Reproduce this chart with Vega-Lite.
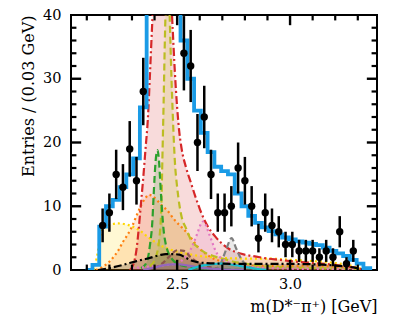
{
  "$schema": "https://vega.github.io/schema/vega-lite/v6.json",
  "width": 306,
  "height": 255,
  "autosize": {"type": "none"},
  "padding": {"left": 71, "top": 15, "right": 22, "bottom": 52},
  "background": "white",
  "config": {
    "view": {"stroke": "black", "strokeWidth": 2},
    "axis": {"domain": false, "grid": false, "ticks": false, "labelFont": "DejaVu Serif", "labelFontSize": 14.5, "labelColor": "black", "titleFont": "DejaVu Serif", "titleFontSize": 16, "titleFontWeight": "normal", "titleColor": "black"}
  },
  "datasets": {
    "xmaj": [{"t": 2.5}, {"t": 3.0}],
    "xmin": [{"t": 2.1}, {"t": 2.2}, {"t": 2.3}, {"t": 2.4}, {"t": 2.6}, {"t": 2.7}, {"t": 2.8}, {"t": 2.9}, {"t": 3.1}, {"t": 3.2}, {"t": 3.3}],
    "ymaj": [{"t": 10}, {"t": 20}, {"t": 30}],
    "ymin": [{"t": 2}, {"t": 4}, {"t": 6}, {"t": 8}, {"t": 12}, {"t": 14}, {"t": 16}, {"t": 18}, {"t": 22}, {"t": 24}, {"t": 26}, {"t": 28}, {"t": 32}, {"t": 34}, {"t": 36}, {"t": 38}],
    "pts": [
      {"m": 2.17, "n": 7, "lo": 4.35, "hi": 9.65},
      {"m": 2.20, "n": 9, "lo": 6, "hi": 12},
      {"m": 2.23, "n": 15, "lo": 11.13, "hi": 18.87},
      {"m": 2.26, "n": 13, "lo": 9.39, "hi": 16.61},
      {"m": 2.29, "n": 19, "lo": 14.64, "hi": 23.36},
      {"m": 2.32, "n": 14, "lo": 10.26, "hi": 17.74},
      {"m": 2.35, "n": 28, "lo": 22.71, "hi": 33.29},
      {"m": 2.53, "n": 34, "lo": 28.17, "hi": 39.83},
      {"m": 2.56, "n": 32, "lo": 26.34, "hi": 37.66},
      {"m": 2.59, "n": 20, "lo": 15.53, "hi": 24.47},
      {"m": 2.62, "n": 24, "lo": 19.1, "hi": 28.9},
      {"m": 2.65, "n": 15, "lo": 11.13, "hi": 18.87},
      {"m": 2.68, "n": 9, "lo": 6, "hi": 12},
      {"m": 2.71, "n": 9, "lo": 6, "hi": 12},
      {"m": 2.74, "n": 10, "lo": 6.84, "hi": 13.16},
      {"m": 2.77, "n": 16, "lo": 12, "hi": 20},
      {"m": 2.80, "n": 14, "lo": 10.26, "hi": 17.74},
      {"m": 2.83, "n": 10, "lo": 6.84, "hi": 13.16},
      {"m": 2.86, "n": 5, "lo": 2.76, "hi": 7.24},
      {"m": 2.89, "n": 9, "lo": 6, "hi": 12},
      {"m": 2.92, "n": 7, "lo": 4.35, "hi": 9.65},
      {"m": 2.95, "n": 6, "lo": 3.55, "hi": 8.45},
      {"m": 2.98, "n": 4, "lo": 2, "hi": 6},
      {"m": 3.01, "n": 4, "lo": 2, "hi": 6},
      {"m": 3.04, "n": 3, "lo": 1.27, "hi": 4.73},
      {"m": 3.07, "n": 3, "lo": 1.27, "hi": 4.73},
      {"m": 3.10, "n": 3, "lo": 1.27, "hi": 4.73},
      {"m": 3.13, "n": 2, "lo": 0.59, "hi": 3.41},
      {"m": 3.16, "n": 3, "lo": 1.27, "hi": 4.73},
      {"m": 3.19, "n": 2, "lo": 0.59, "hi": 3.41},
      {"m": 3.22, "n": 6, "lo": 3.55, "hi": 8.45},
      {"m": 3.25, "n": 1, "lo": 0, "hi": 2},
      {"m": 3.28, "n": 3, "lo": 1.27, "hi": 4.73}
    ],
    "tot": [
      {"m": 2.095, "v": 0}, {"m": 2.125, "v": 0.8}, {"m": 2.155, "v": 6.8}, {"m": 2.185, "v": 10},
      {"m": 2.215, "v": 11}, {"m": 2.245, "v": 13}, {"m": 2.275, "v": 15}, {"m": 2.305, "v": 17.5},
      {"m": 2.335, "v": 25.5}, {"m": 2.365, "v": 45}, {"m": 2.395, "v": 60}, {"m": 2.425, "v": 75},
      {"m": 2.455, "v": 80}, {"m": 2.485, "v": 55}, {"m": 2.515, "v": 36}, {"m": 2.545, "v": 30},
      {"m": 2.575, "v": 25}, {"m": 2.605, "v": 21.5}, {"m": 2.635, "v": 18.5}, {"m": 2.665, "v": 16.2},
      {"m": 2.695, "v": 15.5}, {"m": 2.725, "v": 15}, {"m": 2.755, "v": 12}, {"m": 2.785, "v": 10},
      {"m": 2.815, "v": 8.5}, {"m": 2.845, "v": 7.4}, {"m": 2.875, "v": 6.7}, {"m": 2.905, "v": 6.1},
      {"m": 2.935, "v": 5.6}, {"m": 2.965, "v": 5.1}, {"m": 2.995, "v": 4.8}, {"m": 3.025, "v": 4.5},
      {"m": 3.055, "v": 4.3}, {"m": 3.085, "v": 4.1}, {"m": 3.115, "v": 3.9}, {"m": 3.145, "v": 3.5},
      {"m": 3.175, "v": 3.0}, {"m": 3.205, "v": 2.6}, {"m": 3.235, "v": 2.2}, {"m": 3.265, "v": 1.6},
      {"m": 3.295, "v": 1.0}, {"m": 3.325, "v": 0.3}, {"m": 3.355, "v": 0}
    ],
    "comps": [
      {"c": "yellow", "m": 2.13, "v": 0}, {"c": "yellow", "m": 2.145, "v": 2.1}, {"c": "yellow", "m": 2.16, "v": 5.5}, {"c": "yellow", "m": 2.17, "v": 6.8}, {"c": "yellow", "m": 2.20, "v": 7.1}, {"c": "yellow", "m": 2.24, "v": 7.3}, {"c": "yellow", "m": 2.28, "v": 7.1}, {"c": "yellow", "m": 2.33, "v": 6.3}, {"c": "yellow", "m": 2.37, "v": 5.2}, {"c": "yellow", "m": 2.41, "v": 4.2}, {"c": "yellow", "m": 2.455, "v": 3.4}, {"c": "yellow", "m": 2.50, "v": 2.9}, {"c": "yellow", "m": 2.55, "v": 2.5}, {"c": "yellow", "m": 2.60, "v": 2.2}, {"c": "yellow", "m": 2.70, "v": 1.9}, {"c": "yellow", "m": 2.80, "v": 1.8}, {"c": "yellow", "m": 2.90, "v": 1.8}, {"c": "yellow", "m": 3.00, "v": 1.6}, {"c": "yellow", "m": 3.10, "v": 1.4}, {"c": "yellow", "m": 3.20, "v": 1.1}, {"c": "yellow", "m": 3.28, "v": 0.6}, {"c": "yellow", "m": 3.33, "v": 0},
      {"c": "orange", "m": 2.14, "v": 0}, {"c": "orange", "m": 2.17, "v": 0.5}, {"c": "orange", "m": 2.20, "v": 1.3}, {"c": "orange", "m": 2.22, "v": 2.1}, {"c": "orange", "m": 2.24, "v": 3.1}, {"c": "orange", "m": 2.26, "v": 4.4}, {"c": "orange", "m": 2.28, "v": 5.5}, {"c": "orange", "m": 2.30, "v": 6.8}, {"c": "orange", "m": 2.32, "v": 8.5}, {"c": "orange", "m": 2.34, "v": 10.1}, {"c": "orange", "m": 2.36, "v": 11.3}, {"c": "orange", "m": 2.375, "v": 11.8}, {"c": "orange", "m": 2.39, "v": 11.6}, {"c": "orange", "m": 2.41, "v": 11}, {"c": "orange", "m": 2.43, "v": 10.2}, {"c": "orange", "m": 2.455, "v": 9.4}, {"c": "orange", "m": 2.49, "v": 7.8}, {"c": "orange", "m": 2.52, "v": 6.7}, {"c": "orange", "m": 2.545, "v": 5.8}, {"c": "orange", "m": 2.59, "v": 3.7}, {"c": "orange", "m": 2.645, "v": 2.1}, {"c": "orange", "m": 2.70, "v": 1.3}, {"c": "orange", "m": 2.78, "v": 0.8}, {"c": "orange", "m": 2.90, "v": 0.6}, {"c": "orange", "m": 3.00, "v": 0.6}, {"c": "orange", "m": 3.10, "v": 0.7}, {"c": "orange", "m": 3.20, "v": 0.5}, {"c": "orange", "m": 3.30, "v": 0.2}, {"c": "orange", "m": 3.33, "v": 0},
      {"c": "red", "m": 2.29, "v": 0}, {"c": "red", "m": 2.30, "v": 0.4}, {"c": "red", "m": 2.31, "v": 1.3}, {"c": "red", "m": 2.32, "v": 3.2}, {"c": "red", "m": 2.33, "v": 6.5}, {"c": "red", "m": 2.34, "v": 10.5}, {"c": "red", "m": 2.35, "v": 14.5}, {"c": "red", "m": 2.36, "v": 19}, {"c": "red", "m": 2.37, "v": 23.5}, {"c": "red", "m": 2.38, "v": 31}, {"c": "red", "m": 2.39, "v": 39}, {"c": "red", "m": 2.40, "v": 46}, {"c": "red", "m": 2.42, "v": 54}, {"c": "red", "m": 2.44, "v": 56}, {"c": "red", "m": 2.46, "v": 50}, {"c": "red", "m": 2.47, "v": 45}, {"c": "red", "m": 2.48, "v": 38}, {"c": "red", "m": 2.49, "v": 31}, {"c": "red", "m": 2.50, "v": 25.5}, {"c": "red", "m": 2.51, "v": 21.5}, {"c": "red", "m": 2.52, "v": 19}, {"c": "red", "m": 2.54, "v": 16}, {"c": "red", "m": 2.56, "v": 13.8}, {"c": "red", "m": 2.58, "v": 11.6}, {"c": "red", "m": 2.60, "v": 9.6}, {"c": "red", "m": 2.62, "v": 7.9}, {"c": "red", "m": 2.64, "v": 6.6}, {"c": "red", "m": 2.67, "v": 5.2}, {"c": "red", "m": 2.70, "v": 4.1}, {"c": "red", "m": 2.73, "v": 3.3}, {"c": "red", "m": 2.76, "v": 2.8}, {"c": "red", "m": 2.80, "v": 2.4}, {"c": "red", "m": 2.85, "v": 2.1}, {"c": "red", "m": 2.90, "v": 1.8}, {"c": "red", "m": 2.95, "v": 1.6}, {"c": "red", "m": 3.00, "v": 1.4}, {"c": "red", "m": 3.10, "v": 1.1}, {"c": "red", "m": 3.20, "v": 0.8}, {"c": "red", "m": 3.28, "v": 0.4}, {"c": "red", "m": 3.33, "v": 0},
      {"c": "olive", "m": 2.38, "v": 0.6}, {"c": "olive", "m": 2.40, "v": 1.5}, {"c": "olive", "m": 2.41, "v": 2.5}, {"c": "olive", "m": 2.42, "v": 4.5}, {"c": "olive", "m": 2.43, "v": 10}, {"c": "olive", "m": 2.435, "v": 18}, {"c": "olive", "m": 2.44, "v": 26}, {"c": "olive", "m": 2.445, "v": 35}, {"c": "olive", "m": 2.45, "v": 42}, {"c": "olive", "m": 2.458, "v": 46}, {"c": "olive", "m": 2.465, "v": 42}, {"c": "olive", "m": 2.47, "v": 36}, {"c": "olive", "m": 2.475, "v": 30}, {"c": "olive", "m": 2.48, "v": 25}, {"c": "olive", "m": 2.49, "v": 17}, {"c": "olive", "m": 2.50, "v": 13}, {"c": "olive", "m": 2.51, "v": 10.2}, {"c": "olive", "m": 2.52, "v": 8.3}, {"c": "olive", "m": 2.54, "v": 6.5}, {"c": "olive", "m": 2.56, "v": 4.8}, {"c": "olive", "m": 2.59, "v": 3.6}, {"c": "olive", "m": 2.62, "v": 2.8}, {"c": "olive", "m": 2.66, "v": 2.2}, {"c": "olive", "m": 2.70, "v": 1.8}, {"c": "olive", "m": 2.75, "v": 1.3}, {"c": "olive", "m": 2.80, "v": 1.0}, {"c": "olive", "m": 2.90, "v": 0.6}, {"c": "olive", "m": 3.00, "v": 0.4}, {"c": "olive", "m": 3.20, "v": 0.2}, {"c": "olive", "m": 3.33, "v": 0},
      {"c": "green", "m": 2.34, "v": 0.3}, {"c": "green", "m": 2.36, "v": 0.9}, {"c": "green", "m": 2.37, "v": 1.8}, {"c": "green", "m": 2.38, "v": 4}, {"c": "green", "m": 2.39, "v": 7.5}, {"c": "green", "m": 2.395, "v": 11}, {"c": "green", "m": 2.40, "v": 14.5}, {"c": "green", "m": 2.405, "v": 17.2}, {"c": "green", "m": 2.413, "v": 18.8}, {"c": "green", "m": 2.42, "v": 17}, {"c": "green", "m": 2.425, "v": 14}, {"c": "green", "m": 2.43, "v": 11}, {"c": "green", "m": 2.44, "v": 6.3}, {"c": "green", "m": 2.45, "v": 4}, {"c": "green", "m": 2.46, "v": 2.8}, {"c": "green", "m": 2.48, "v": 1.6}, {"c": "green", "m": 2.50, "v": 1.0}, {"c": "green", "m": 2.55, "v": 0.5}, {"c": "green", "m": 2.60, "v": 0.3}, {"c": "green", "m": 2.70, "v": 0.1}, {"c": "green", "m": 2.80, "v": 0},
      {"c": "pink", "m": 2.30, "v": 0.3}, {"c": "pink", "m": 2.40, "v": 0.6}, {"c": "pink", "m": 2.48, "v": 0.9}, {"c": "pink", "m": 2.50, "v": 1.0}, {"c": "pink", "m": 2.53, "v": 1.8}, {"c": "pink", "m": 2.55, "v": 2.6}, {"c": "pink", "m": 2.57, "v": 4.0}, {"c": "pink", "m": 2.59, "v": 5.8}, {"c": "pink", "m": 2.605, "v": 7.2}, {"c": "pink", "m": 2.615, "v": 7.6}, {"c": "pink", "m": 2.625, "v": 7.2}, {"c": "pink", "m": 2.64, "v": 5.8}, {"c": "pink", "m": 2.655, "v": 4.4}, {"c": "pink", "m": 2.67, "v": 3.0}, {"c": "pink", "m": 2.69, "v": 2.0}, {"c": "pink", "m": 2.72, "v": 1.3}, {"c": "pink", "m": 2.76, "v": 0.8}, {"c": "pink", "m": 2.85, "v": 0.4}, {"c": "pink", "m": 3.00, "v": 0.2}, {"c": "pink", "m": 3.20, "v": 0.1}, {"c": "pink", "m": 3.33, "v": 0},
      {"c": "gray", "m": 2.66, "v": 0}, {"c": "gray", "m": 2.69, "v": 0.8}, {"c": "gray", "m": 2.705, "v": 2.1}, {"c": "gray", "m": 2.72, "v": 3.5}, {"c": "gray", "m": 2.741, "v": 5.0}, {"c": "gray", "m": 2.76, "v": 3.5}, {"c": "gray", "m": 2.778, "v": 2.1}, {"c": "gray", "m": 2.80, "v": 1.0}, {"c": "gray", "m": 2.83, "v": 0.3}, {"c": "gray", "m": 2.86, "v": 0},
      {"c": "brown", "m": 2.40, "v": 0.3}, {"c": "brown", "m": 2.44, "v": 1.2}, {"c": "brown", "m": 2.47, "v": 2.3}, {"c": "brown", "m": 2.50, "v": 3.1}, {"c": "brown", "m": 2.53, "v": 3.0}, {"c": "brown", "m": 2.56, "v": 2.0}, {"c": "brown", "m": 2.60, "v": 1.0}, {"c": "brown", "m": 2.65, "v": 0.4}, {"c": "brown", "m": 2.70, "v": 0},
      {"c": "purple", "m": 2.35, "v": 0}, {"c": "purple", "m": 2.40, "v": 0.4}, {"c": "purple", "m": 2.45, "v": 0.8}, {"c": "purple", "m": 2.50, "v": 0.9}, {"c": "purple", "m": 2.55, "v": 0.7}, {"c": "purple", "m": 2.60, "v": 0.4}, {"c": "purple", "m": 2.70, "v": 0.1}, {"c": "purple", "m": 2.80, "v": 0},
      {"c": "cyan", "m": 2.55, "v": 0}, {"c": "cyan", "m": 2.60, "v": 0.6}, {"c": "cyan", "m": 2.65, "v": 0.9}, {"c": "cyan", "m": 2.70, "v": 1.0}, {"c": "cyan", "m": 2.75, "v": 0.8}, {"c": "cyan", "m": 2.80, "v": 0.5}, {"c": "cyan", "m": 2.85, "v": 0.2}, {"c": "cyan", "m": 2.90, "v": 0},
      {"c": "black", "m": 2.15, "v": 0}, {"c": "black", "m": 2.20, "v": 0.3}, {"c": "black", "m": 2.25, "v": 0.7}, {"c": "black", "m": 2.28, "v": 1.0}, {"c": "black", "m": 2.32, "v": 1.4}, {"c": "black", "m": 2.37, "v": 1.8}, {"c": "black", "m": 2.42, "v": 2.3}, {"c": "black", "m": 2.45, "v": 2.5}, {"c": "black", "m": 2.48, "v": 2.5}, {"c": "black", "m": 2.51, "v": 2.4}, {"c": "black", "m": 2.54, "v": 1.9}, {"c": "black", "m": 2.57, "v": 1.4}, {"c": "black", "m": 2.62, "v": 1.1}, {"c": "black", "m": 2.70, "v": 1.0}, {"c": "black", "m": 2.80, "v": 0.95}, {"c": "black", "m": 2.90, "v": 0.95}, {"c": "black", "m": 3.00, "v": 0.95}, {"c": "black", "m": 3.10, "v": 0.9}, {"c": "black", "m": 3.20, "v": 0.7}, {"c": "black", "m": 3.28, "v": 0.4}, {"c": "black", "m": 3.33, "v": 0}
    ]
  },
  "resolve": {"axis": {"x": "independent", "y": "independent"}},
  "layer": [
    {
      "data": {"name": "comps"},
      "mark": {"type": "area", "clip": true, "opacity": 0.17, "interpolate": "monotone"},
      "encoding": {
        "x": {"field": "m", "type": "quantitative", "scale": {"domain": [2.03, 3.385], "nice": false, "zero": false},
              "axis": {"orient": "bottom", "values": [2.5, 3.0], "format": ".1f", "labelPadding": 7, "title": "m(D*⁻π⁺) [GeV]", "titleAnchor": "end", "titlePadding": 8}},
        "y": {"field": "v", "type": "quantitative", "stack": null, "scale": {"domain": [0, 40], "nice": false},
              "axis": {"orient": "left", "values": [0, 10, 20, 30, 40], "labelPadding": 10, "title": "Entries / (0.03 GeV)", "titleAnchor": "end", "titlePadding": 6}},
        "color": {"field": "c", "type": "nominal", "legend": null,
                  "scale": {"domain": ["yellow", "orange", "red", "olive", "green", "pink", "gray", "brown", "purple", "cyan", "black"],
                            "range": ["#ffd700", "#ff7f0e", "#d62728", "#bcbd22", "#2ca02c", "#e377c2", "#7f7f7f", "#8c564b", "#9467bd", "#17becf", "#000000"]}}
      }
    },
    {
      "data": {"name": "comps"},
      "mark": {"type": "line", "clip": true, "strokeWidth": 2.2, "interpolate": "monotone"},
      "encoding": {
        "x": {"field": "m", "type": "quantitative", "axis": null},
        "y": {"field": "v", "type": "quantitative", "axis": null},
        "color": {"field": "c", "type": "nominal", "legend": null},
        "strokeDash": {"field": "c", "type": "nominal", "legend": null,
                       "scale": {"domain": ["yellow", "orange", "red", "olive", "green", "pink", "gray", "brown", "purple", "cyan", "black"],
                                 "range": [[2, 3], [2, 3], [8, 3, 2, 3], [7, 4], [7, 4], [2, 3], [6, 3], [5, 3], [1, 0], [1, 0], [8, 3, 2, 3]]}}
      }
    },
    {
      "data": {"name": "tot"},
      "mark": {"type": "line", "clip": true, "interpolate": "step-after", "color": "#1a9be6", "strokeWidth": 3.8},
      "encoding": {
        "x": {"field": "m", "type": "quantitative", "axis": null},
        "y": {"field": "v", "type": "quantitative", "axis": null}
      }
    },
    {
      "data": {"name": "pts"},
      "mark": {"type": "rule", "clip": true, "color": "black", "strokeWidth": 2.5},
      "encoding": {
        "x": {"field": "m", "type": "quantitative", "axis": null},
        "y": {"field": "lo", "type": "quantitative", "axis": null},
        "y2": {"field": "hi"}
      }
    },
    {
      "data": {"name": "pts"},
      "mark": {"type": "point", "clip": true, "filled": true, "color": "black", "opacity": 1, "size": 55},
      "encoding": {
        "x": {"field": "m", "type": "quantitative", "axis": null},
        "y": {"field": "n", "type": "quantitative", "axis": null}
      }
    },
    {
      "data": {"name": "xmaj"},
      "mark": {"type": "rule", "color": "black", "strokeWidth": 2.4},
      "encoding": {"x": {"field": "t", "type": "quantitative", "axis": null}, "y": {"datum": 0, "type": "quantitative", "axis": null}, "y2": {"datum": 1.6}}
    },
    {
      "data": {"name": "xmaj"},
      "mark": {"type": "rule", "color": "black", "strokeWidth": 2.4},
      "encoding": {"x": {"field": "t", "type": "quantitative", "axis": null}, "y": {"datum": 40, "type": "quantitative", "axis": null}, "y2": {"datum": 38.4}}
    },
    {
      "data": {"name": "xmin"},
      "mark": {"type": "rule", "color": "black", "strokeWidth": 2.2},
      "encoding": {"x": {"field": "t", "type": "quantitative", "axis": null}, "y": {"datum": 0, "type": "quantitative", "axis": null}, "y2": {"datum": 0.85}}
    },
    {
      "data": {"name": "xmin"},
      "mark": {"type": "rule", "color": "black", "strokeWidth": 2.2},
      "encoding": {"x": {"field": "t", "type": "quantitative", "axis": null}, "y": {"datum": 40, "type": "quantitative", "axis": null}, "y2": {"datum": 39.15}}
    },
    {
      "data": {"name": "ymaj"},
      "mark": {"type": "rule", "color": "black", "strokeWidth": 2.4},
      "encoding": {"y": {"field": "t", "type": "quantitative", "axis": null}, "x": {"datum": 2.03, "type": "quantitative", "axis": null}, "x2": {"datum": 2.075}}
    },
    {
      "data": {"name": "ymaj"},
      "mark": {"type": "rule", "color": "black", "strokeWidth": 2.4},
      "encoding": {"y": {"field": "t", "type": "quantitative", "axis": null}, "x": {"datum": 3.385, "type": "quantitative", "axis": null}, "x2": {"datum": 3.34}}
    },
    {
      "data": {"name": "ymin"},
      "mark": {"type": "rule", "color": "black", "strokeWidth": 2.2},
      "encoding": {"y": {"field": "t", "type": "quantitative", "axis": null}, "x": {"datum": 2.03, "type": "quantitative", "axis": null}, "x2": {"datum": 2.054}}
    },
    {
      "data": {"name": "ymin"},
      "mark": {"type": "rule", "color": "black", "strokeWidth": 2.2},
      "encoding": {"y": {"field": "t", "type": "quantitative", "axis": null}, "x": {"datum": 3.385, "type": "quantitative", "axis": null}, "x2": {"datum": 3.361}}
    },
    {
      "mark": {"type": "text", "align": "right", "baseline": "middle", "font": "DejaVu Serif", "fontSize": 16.5, "color": "black"},
      "encoding": {
        "x": {"datum": 3.31, "type": "quantitative", "axis": null},
        "y": {"datum": 35.8, "type": "quantitative", "axis": null},
        "text": {"value": "LHCb"}
      }
    },
    {
      "mark": {"type": "text", "align": "right", "baseline": "middle", "font": "DejaVu Serif", "fontSize": 16.5, "color": "black"},
      "encoding": {
        "x": {"datum": 3.31, "type": "quantitative", "axis": null},
        "y": {"datum": 31.6, "type": "quantitative", "axis": null},
        "text": {"value": "9 fb⁻¹"}
      }
    }
  ]
}
